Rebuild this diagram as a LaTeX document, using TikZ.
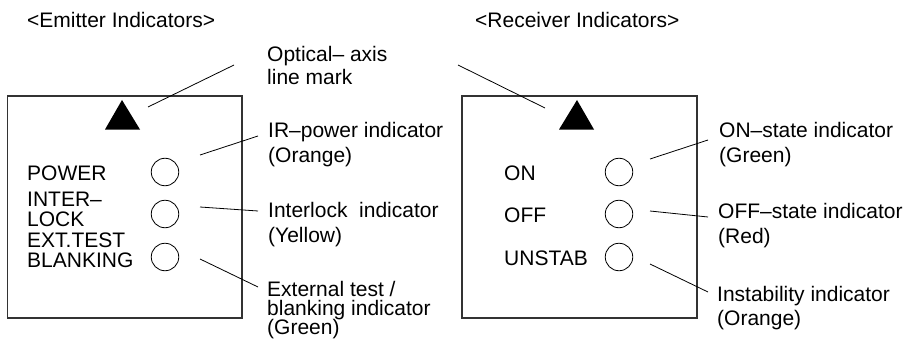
\documentclass[tikz,border=0pt]{standalone}
\usepackage{fontspec}
\setmainfont{Liberation Sans}
\begin{document}
\begin{tikzpicture}[x=1pt,y=-1pt,
  txt/.style={inner sep=0pt,anchor=base west,font=\fontsize{21}{22}\selectfont},
  panel/.style={draw=black!80,line width=1.1pt},
  lamp/.style={draw,circle,minimum size=27.5pt,inner sep=0pt,line width=0.8pt},
  lead/.style={line width=0.8pt},
  axismark/.style={fill=black}]
\useasboundingbox (0,0) rectangle (904,342);
% titles
\node[txt] (t1) at (27,28) {<Emitter Indicators>};
\node[txt] (t2) at (475,28) {<Receiver Indicators>};
% panels
\draw[panel] (7.5,96) rectangle (242,318);
\draw[panel] (462,96) rectangle (697,318);
% triangles
\fill[axismark] (122,100) -- (140,129.5) -- (105,129.5) -- cycle;
\fill[axismark] (577,100) -- (594,129.5) -- (559,129.5) -- cycle;
% lamps
\node[lamp] (c1) at (165,172) {};
\node[lamp] (c2) at (165,214) {};
\node[lamp] (c3) at (165,257) {};
\node[lamp] (c4) at (619,172) {};
\node[lamp] (c5) at (619,214) {};
\node[lamp] (c6) at (619,257) {};
% panel labels
\node[txt] (pw) at (27,180.5) {POWER};
\node[txt] (il1) at (27,206.5) {INTER–};
\node[txt] (il2) at (27,226) {LOCK};
\node[txt] (et1) at (27,247) {EXT.TEST};
\node[txt] (et2) at (27,267) {BLANKING};
\node[txt] (on) at (504,180.5) {ON};
\node[txt] (off) at (504,222.5) {OFF};
\node[txt] (un) at (504,265) {UNSTAB};
% callout texts
\node[txt] (oa1) at (267,62) {Optical– axis};
\node[txt] (oa2) at (267,84.5) {line mark};
\node[txt] (ir1) at (268,137) {IR–power indicator};
\node[txt] (ir2) at (268,162) {(Orange)};
\node[txt] (lk1) at (268,217) {Interlock\ \ indicator};
\node[txt] (lk2) at (268,242) {(Yellow)};
\node[txt] (ex1) at (267,296) {External test /};
\node[txt] (ex2) at (267,315) {blanking indicator};
\node[txt] (ex3) at (267,334) {(Green)};
\node[txt] (os1) at (719,137) {ON–state indicator};
\node[txt] (os2) at (719,162) {(Green)};
\node[txt] (fs1) at (718,218.5) {OFF–state indicator};
\node[txt] (fs2) at (718,243.5) {(Red)};
\node[txt] (in1) at (717,301.5) {Instability indicator};
\node[txt] (in2) at (717,325) {(Orange)};
% leader end points
\coordinate (a1) at (148,107);  \coordinate (a2) at (234,65);
\coordinate (b1) at (458,65);   \coordinate (b2) at (545,108);
\coordinate (p1) at (200,155);  \coordinate (p2) at (258,136);
\coordinate (q1) at (200,207);  \coordinate (q2) at (258,211);
\coordinate (r1) at (200,259);  \coordinate (r2) at (258,287);
\coordinate (s1) at (650,159);  \coordinate (s2) at (708,140);
\coordinate (u1) at (650,211);  \coordinate (u2) at (708,217);
\coordinate (v1) at (650,264);  \coordinate (v2) at (708,292);
% leaders
\draw[lead] (a1) -- (a2);
\draw[lead] (b1) -- (b2);
\draw[lead] (p1) -- (p2);
\draw[lead] (q1) -- (q2);
\draw[lead] (r1) -- (r2);
\draw[lead] (s1) -- (s2);
\draw[lead] (u1) -- (u2);
\draw[lead] (v1) -- (v2);
\end{tikzpicture}
\end{document}
